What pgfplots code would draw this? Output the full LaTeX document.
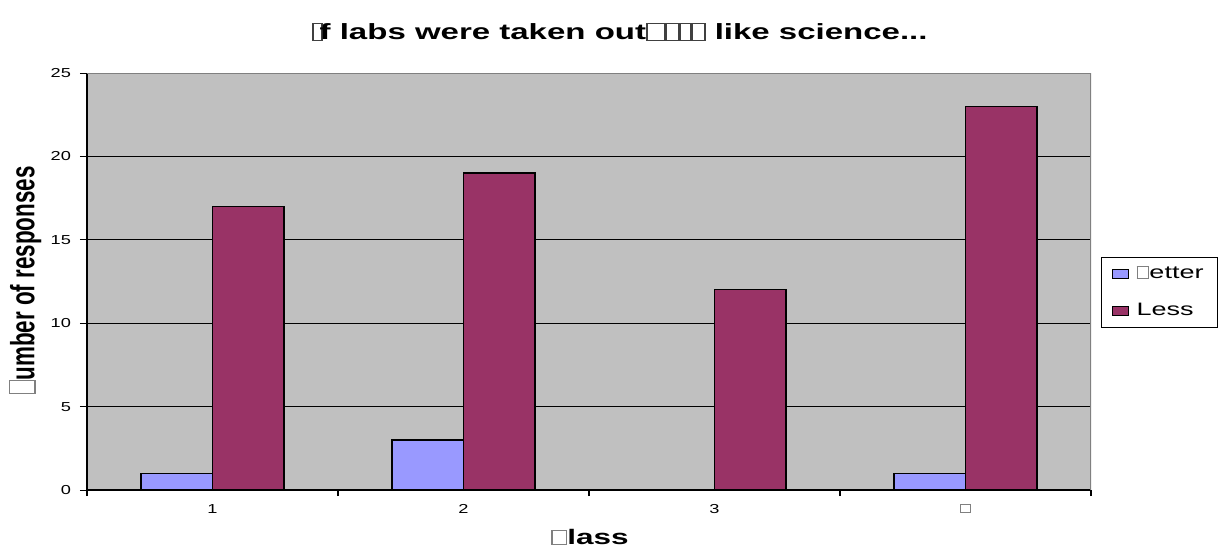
\documentclass[border=0pt]{standalone}
\usepackage{graphicx}
\usepackage{pgfplots}
\pgfplotsset{compat=1.18}
\usepackage{fontspec}
\setmainfont{Liberation Sans}
\definecolor{plotbg}{HTML}{C0C0C0}
\definecolor{better}{HTML}{9999FF}
\definecolor{less}{HTML}{993366}
\newcommand\nd[3][0.72em]{\textcolor{#2}{\fboxsep=0pt\fboxrule=0.5pt\fbox{\rule{0pt}{#1}\hspace{#3}}}}
\newcommand\sx[1]{\scalebox{1.5}[1]{#1}}
\newcommand\tx[1]{\scalebox{1.4}[1]{#1}}
\begin{document}
\begin{tikzpicture}
\useasboundingbox (0,0) rectangle (610pt,274pt);
\begin{axis}[
  at={(43.5pt,29pt)}, anchor=south west,
  scale only axis, width=502pt, height=208.5pt,
  xmin=0.5, xmax=4.5, ymin=0, ymax=25,
  axis background/.style={fill=plotbg},
  axis lines*=left,
  axis line style={black, line width=0.6pt},
  tick align=outside,
  xtick={1,2,3,4},
  xticklabels={\tx{1},\tx{2},\tx{3},\tx{\nd[0.5em]{gray}{0.45em}}},
  minor xtick={0.5,1.5,2.5,3.5,4.5},
  every major x tick/.append style={draw=none},
  every minor x tick/.append style={black, line width=0.6pt},
  minor tick length=3pt,
  major tick length=3.5pt,
  ytick={0,5,10,15,20,25},
  yticklabel={\tx{\pgfmathprintnumber{\tick}}},
  every major y tick/.append style={black, line width=0.5pt},
  ymajorgrids,
  grid style={black, line width=0.5pt},
  /pgf/number format/assume math mode=true,
  tick label style={font=\fontsize{6.5}{7}\selectfont},
  y tick label style={xshift=-1pt},
  legend style={at={(1,0.474)}, anchor=west, xshift=5pt, draw=black, line width=0.5pt,
    font=\fontsize{9}{10}\selectfont, row sep=7pt, inner xsep=5pt, inner ysep=2.5pt},
  legend cell align=left,
  legend image code/.code={\draw[#1, line width=0.5pt] (0pt,-2.3pt) rectangle (8pt,2.3pt);},
]
\addplot[ybar, bar width=0.285, bar shift=-0.1425, fill=better, draw=black, line width=0.6pt]
  coordinates {(1,1) (2,3) (3,0) (4,1)};
\addlegendentry{\hspace{2pt}\sx{\nd[0.6em]{gray}{0.37em}etter}}
\addplot[ybar, bar width=0.285, bar shift=0.1425, fill=less, draw=black, line width=0.6pt]
  coordinates {(1,17) (2,19) (3,12) (4,23)};
\addlegendentry{\hspace{2pt}\sx{Less}}
\draw[gray, line width=0.8pt] (rel axis cs:0,1) -- (rel axis cs:1,1) -- (rel axis cs:1,0);
\end{axis}
\node[font=\bfseries\fontsize{11}{12}\selectfont] at (310pt,258pt)
  {\sx{\nd{darkgray}{0.23em}\hspace{-0.1em}f labs were taken out\nd{darkgray}{0.5em}\nd{darkgray}{0.33em}\nd{darkgray}{0.28em}\nd{darkgray}{0.33em} like science...}};
\node[font=\bfseries\fontsize{11.2}{12}\selectfont] at (12.5pt,134pt)
  {\sx{\rotatebox{90}{\nd{gray}{0.5em}umber of responses}}};
\node[font=\bfseries\fontsize{10.5}{12}\selectfont] at (295pt,5.5pt)
  {\sx{\nd[0.62em]{gray}{0.41em}lass}};
\end{tikzpicture}
\end{document}
